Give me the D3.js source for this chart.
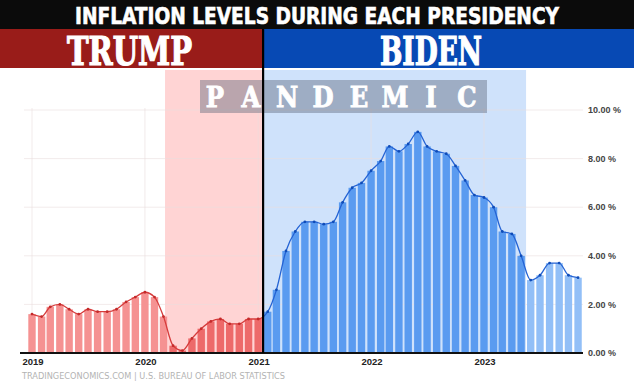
<!DOCTYPE html>
<html>
<head>
<meta charset="utf-8">
<script src="https://cdn.jsdelivr.net/npm/d3@7"></script>
<style>
  html, body { margin: 0; padding: 0; background: #fff; }
  svg { display: block; }
</style>
</head>
<body>
<svg id="chart" width="634" height="383"></svg>
<script>
// ---------------- DATA ----------------
const title = "INFLATION LEVELS DURING EACH PRESIDENCY";
const presidents = ["TRUMP", "BIDEN"];
const pandemicLabel = "PANDEMIC";
const sourceText = "TRADINGECONOMICS.COM | U.S. BUREAU OF LABOR STATISTICS";
const firstMonth = "2019-01-01";
// US CPI YoY %, monthly, Jan 2019 .. Nov 2023
const values2019 = [1.6, 1.5, 1.9, 2.0, 1.8, 1.6, 1.8, 1.7, 1.7, 1.8, 2.1, 2.3];
const values2020 = [2.5, 2.3, 1.5, 0.3, 0.1, 0.6, 1.0, 1.3, 1.4, 1.2, 1.2, 1.4];
const values2021 = [1.4, 1.7, 2.6, 4.2, 5.0, 5.4, 5.4, 5.3, 5.4, 6.2, 6.8, 7.0];
const values2022 = [7.5, 7.9, 8.5, 8.3, 8.6, 9.1, 8.5, 8.3, 8.2, 7.7, 7.1, 6.5];
const values2023 = [6.4, 6.0, 5.0, 4.9, 4.0, 3.0, 3.2, 3.7, 3.7, 3.2, 3.1];
const yTicks = [0, 2, 4, 6, 8, 10];
const xTickYears = ["2019", "2020", "2021", "2022", "2023"];
const inauguration = "2021-01-17";
const pandemicStart = "2020-03-06";
const pandemicEnd = "2023-05-17";

// ---------------- BUILD ----------------
const parse = d3.timeParse("%Y-%m-%d");
const allValues = [].concat(values2019, values2020, values2021, values2022, values2023);
const start = parse(firstMonth);
const data = allValues.map((v, i) => ({ date: d3.timeMonth.offset(start, i), value: v }));
const inaug = parse(inauguration);
const pStart = parse(pandemicStart), pEnd = parse(pandemicEnd);

const W = 634, H = 383;
const svg = d3.select("#chart");

const x = d3.scaleTime()
  .domain([new Date(2019, 0, 1), new Date(2023, 0, 1)])
  .range([32, 484]);
const plotLeft = 20, plotRight = 583;
const y = d3.scaleLinear().domain([0, 10]).range([353, 110]);
const yBottom = y(0);
const plotTop = 70;
const xDiv = x(inaug);
const monthW = x(new Date(2019, 1, 1)) - x(new Date(2019, 0, 1));
const barW = monthW * 0.77;

// Pandemic shading
svg.append("rect").attr("x", x(pStart)).attr("y", plotTop)
  .attr("width", xDiv - x(pStart)).attr("height", yBottom - plotTop)
  .attr("fill", "#ffd4d4");
svg.append("rect").attr("x", xDiv).attr("y", plotTop)
  .attr("width", x(pEnd) - xDiv).attr("height", yBottom - plotTop)
  .attr("fill", "#cfe2fb");

// Gridlines
svg.append("g").selectAll("line").data(yTicks.filter(d => d > 0)).join("line")
  .attr("x1", plotLeft + 4).attr("x2", plotRight)
  .attr("y1", d => y(d)).attr("y2", d => y(d))
  .attr("stroke", "#e9dede").attr("stroke-opacity", 0.6).attr("stroke-width", 1);
svg.append("g").selectAll("line").data(xTickYears).join("line")
  .attr("x1", d => x(parse(d + "-01-01"))).attr("x2", d => x(parse(d + "-01-01")))
  .attr("y1", y(10) - 2).attr("y2", yBottom)
  .attr("stroke", "#e9dede").attr("stroke-opacity", 0.6).attr("stroke-width", 1);

// Bars
function barColor(d) {
  const inP = d.date >= pStart && d.date <= pEnd;
  if (d.date < inaug) return inP ? "#ed6a6a" : "#f59292";
  return inP ? "#5a9bf0" : "#92bff7";
}
svg.append("g").selectAll("rect").data(data).join("rect")
  .attr("x", d => x(d.date) - barW / 2)
  .attr("y", d => y(d.value))
  .attr("width", barW)
  .attr("height", d => yBottom - y(d.value))
  .attr("fill", barColor);

// Line with clip paths
const defs = svg.append("defs");
defs.append("clipPath").attr("id", "clipL").append("rect")
  .attr("x", 0).attr("y", 0).attr("width", xDiv).attr("height", H);
defs.append("clipPath").attr("id", "clipR").append("rect")
  .attr("x", xDiv).attr("y", 0).attr("width", W - xDiv).attr("height", H);
const line = d3.line().x(d => x(d.date)).y(d => y(d.value)).curve(d3.curveMonotoneX);
svg.append("path").datum(data).attr("d", line).attr("fill", "none")
  .attr("stroke", "#d63c3c").attr("stroke-width", 1.3).attr("clip-path", "url(#clipL)");
svg.append("path").datum(data).attr("d", line).attr("fill", "none")
  .attr("stroke", "#2463d4").attr("stroke-width", 1.3).attr("clip-path", "url(#clipR)");
svg.append("g").selectAll("circle").data(data).join("circle")
  .attr("cx", d => x(d.date)).attr("cy", d => y(d.value)).attr("r", 1.4)
  .attr("fill", d => d.date < inaug ? "#c42a2a" : "#0f4cb8");

// Axis line
svg.append("line").attr("x1", plotLeft).attr("x2", plotRight)
  .attr("y1", yBottom).attr("y2", yBottom)
  .attr("stroke", "#111").attr("stroke-width", 2);

// Y labels
svg.append("g").selectAll("text").data(yTicks).join("text")
  .attr("x", 588).attr("y", d => y(d)).attr("dy", "0.35em")
  .attr("font-family", "Liberation Sans, Arial, sans-serif")
  .attr("font-size", 9).attr("font-weight", "bold").attr("fill", "#444")
  .text(d => d3.format(".2f")(d) + " %");

// X labels
svg.append("g").selectAll("text").data(xTickYears).join("text")
  .attr("x", d => x(parse(d + "-01-01")) + 1).attr("y", 365)
  .attr("text-anchor", "middle")
  .attr("font-family", "Liberation Sans, Arial, sans-serif")
  .attr("font-size", 9.5).attr("font-weight", "bold").attr("fill", "#222")
  .text(d => d);

// Footer
svg.append("text").attr("x", 22).attr("y", 379)
  .attr("font-family", "DejaVu Sans, sans-serif").attr("font-size", 9.5)
  .attr("fill", "#b3b3b3").attr("textLength", 263).attr("lengthAdjust", "spacingAndGlyphs")
  .text(sourceText);

// Header
svg.append("rect").attr("x", 0).attr("y", 0).attr("width", W).attr("height", 29).attr("fill", "#0b0b0b");
svg.append("rect").attr("x", 0).attr("y", 29).attr("width", xDiv).attr("height", 39).attr("fill", "#991c19");
svg.append("rect").attr("x", xDiv).attr("y", 29).attr("width", W - xDiv).attr("height", 39).attr("fill", "#0749b4");
svg.append("text").attr("x", 317).attr("y", 23.5).attr("text-anchor", "middle")
  .attr("font-family", "DejaVu Sans Condensed, DejaVu Sans, sans-serif")
  .attr("font-size", 23).attr("font-weight", "bold").attr("fill", "#fff")
  .attr("stroke", "#fff").attr("stroke-width", 0.6)
  .attr("textLength", 484).attr("lengthAdjust", "spacingAndGlyphs")
  .text(title);
const presX = [129.5, 431];
const presW = [125, 102];
svg.append("g").selectAll("text").data(presidents).join("text")
  .attr("x", (d, i) => presX[i]).attr("y", 64.5).attr("text-anchor", "middle")
  .attr("font-family", "DejaVu Serif Condensed, DejaVu Serif, serif")
  .attr("font-size", 40).attr("font-weight", "bold").attr("fill", "#fff")
  .attr("stroke", "#fff").attr("stroke-width", 1.2)
  .attr("textLength", (d, i) => presW[i]).attr("lengthAdjust", "spacingAndGlyphs")
  .text(d => d);

// Pandemic label
svg.append("rect").attr("x", 200).attr("y", 80).attr("width", 287).attr("height", 33)
  .attr("fill", "#5a6478").attr("fill-opacity", 0.42);
svg.append("g").selectAll("text").data(pandemicLabel.split("")).join("text")
  .attr("x", (d, i) => 215 + i * 36).attr("y", 107).attr("text-anchor", "middle")
  .attr("font-family", "DejaVu Serif Condensed, DejaVu Serif, serif")
  .attr("font-size", 27).attr("font-weight", "bold").attr("fill", "#fff")
  .attr("stroke", "#fff").attr("stroke-width", 0.8)
  .text(d => d);

// Divider (on top)
svg.append("line").attr("x1", xDiv).attr("x2", xDiv).attr("y1", 29).attr("y2", yBottom)
  .attr("stroke", "#000").attr("stroke-width", 2.2);
</script>
</body>
</html>
